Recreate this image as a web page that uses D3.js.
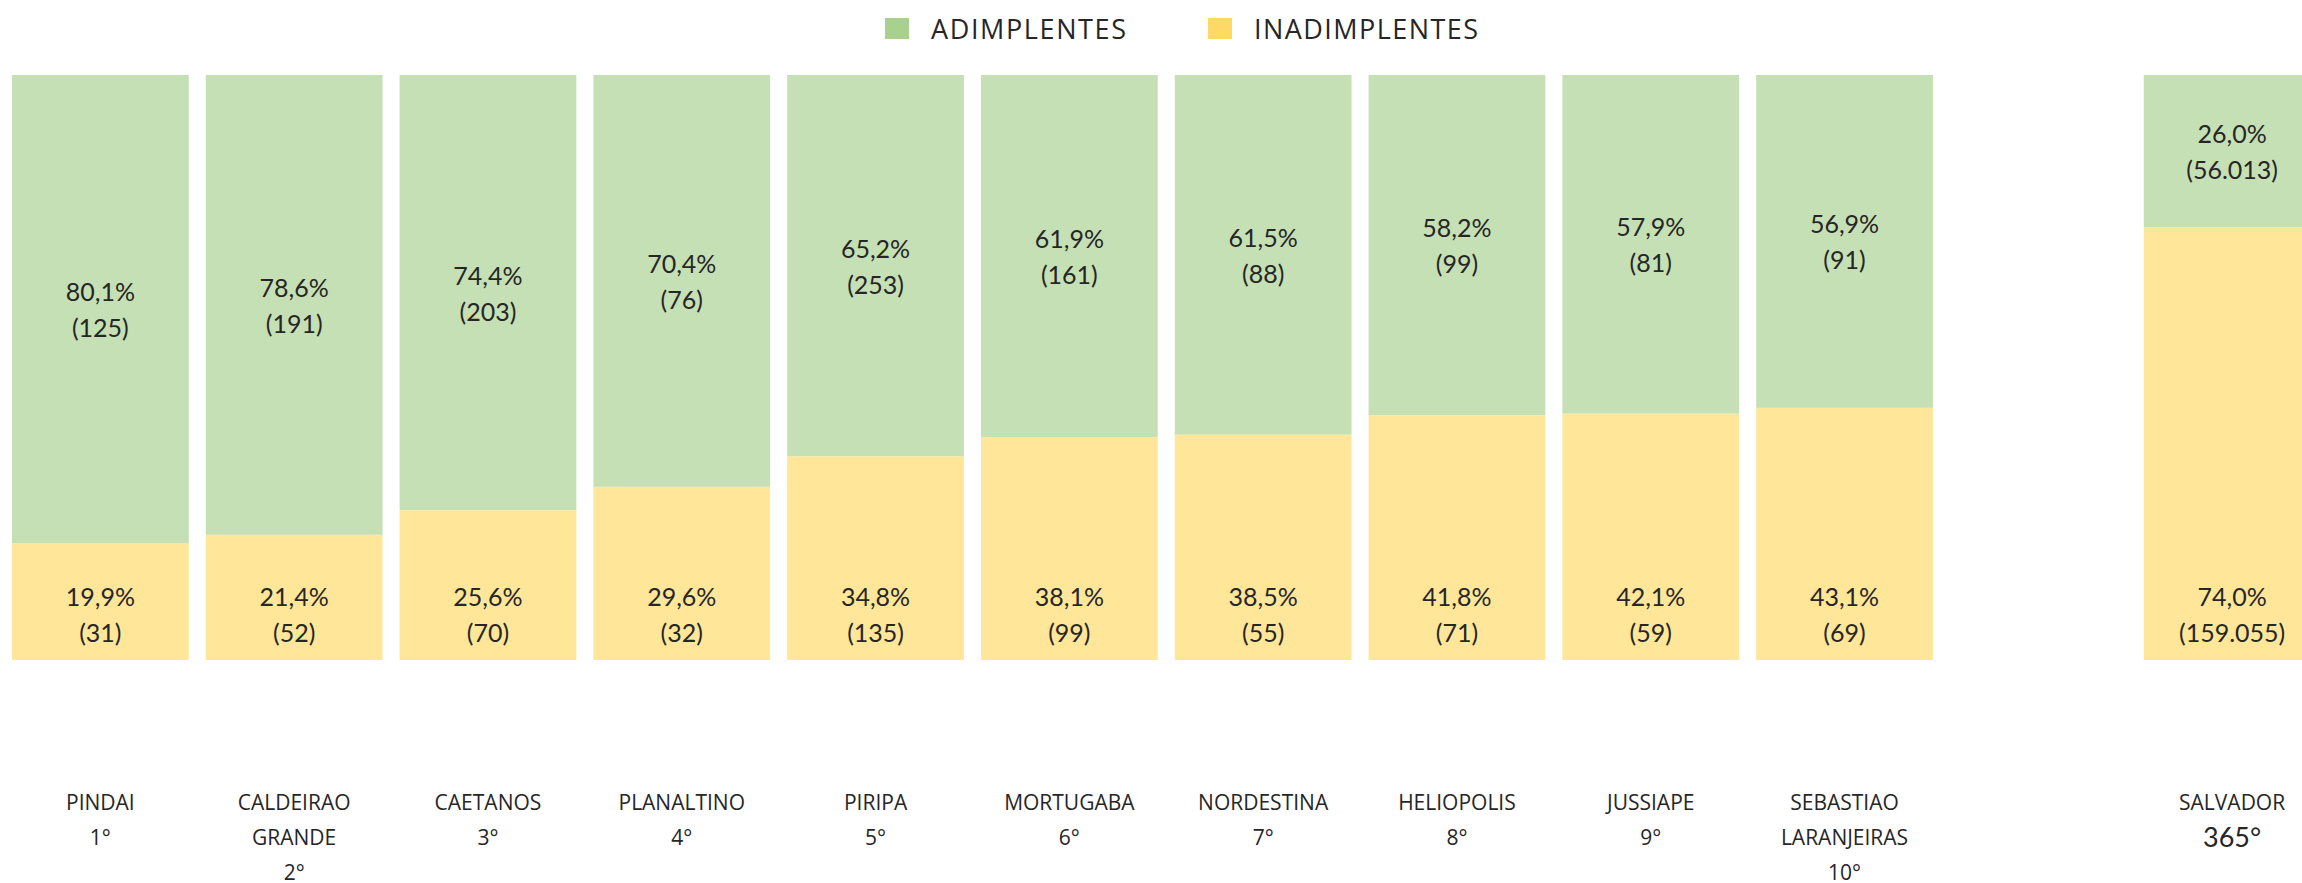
<!DOCTYPE html>
<html>
<head>
<meta charset="utf-8">
<script src="https://cdn.jsdelivr.net/npm/d3@7"></script>
<style>
  body { margin: 0; background: #fff; overflow: hidden; }
</style>
</head>
<body>
<script>
// values
const cities = ["PINDAI", "CALDEIRAO GRANDE", "CAETANOS", "PLANALTINO", "PIRIPA", "MORTUGABA",
                "NORDESTINA", "HELIOPOLIS", "JUSSIAPE", "SEBASTIAO LARANJEIRAS", "SALVADOR"];
const ranks = ["1°", "2°", "3°", "4°", "5°", "6°", "7°", "8°", "9°", "10°", "365°"];
const adimPct = [80.1, 78.6, 74.4, 70.4, 65.2, 61.9, 61.5, 58.2, 57.9, 56.9, 26.0];
const adimN = [125, 191, 203, 76, 253, 161, 88, 99, 81, 91, 56013];
const inadPct = [19.9, 21.4, 25.6, 29.6, 34.8, 38.1, 38.5, 41.8, 42.1, 43.1, 74.0];
const inadN = [31, 52, 70, 32, 135, 99, 55, 71, 59, 69, 159055];
const seriesNames = ["ADIMPLENTES", "INADIMPLENTES"];

const width = 2302, height = 883;
const barColors = ["#c5e0b4", "#ffe699"];
const swatchColors = ["#a9d18e", "#ffd966"];
const textColor = "#262626";

const br = d3.formatLocale({decimal: ",", thousands: ".", grouping: [3], currency: ["R$", ""]});
const fmtPct = br.format(".1f");
const fmtN = br.format(",d");

const rows = cities.map((c, i) => ({
  city: c, rank: ranks[i],
  adim: adimPct[i], adimN: adimN[i],
  inad: inadPct[i], inadN: inadN[i]
}));

// empty slot before SALVADOR
const slots = cities.slice(0, 10).concat(["_gap"], cities.slice(10));

const x = d3.scaleBand()
  .domain(slots)
  .range([12, 2320.5])
  .paddingInner(0.088)
  .paddingOuter(0);

const y = d3.scaleLinear().domain([0, 100]).range([660, 75]);

const svg = d3.select("body").append("svg")
  .attr("width", width)
  .attr("height", height);

// legend
const legendX = [885, 1208];
const legendW = [195, 224];
const legend = svg.append("g");
seriesNames.forEach((name, i) => {
  legend.append("rect")
    .attr("x", legendX[i]).attr("y", 18)
    .attr("width", 24).attr("height", 21)
    .attr("fill", swatchColors[i]);
  legend.append("text")
    .attr("x", legendX[i] + 46).attr("y", 39)
    .attr("font-family", "Open Sans")
    .attr("font-size", 27)
    .attr("fill", textColor)
    .attr("textLength", legendW[i])
    .attr("lengthAdjust", "spacing")
    .text(name);
});

// bars
const bars = svg.append("g").selectAll("g.bar")
  .data(rows)
  .join("g")
  .attr("class", "bar");

bars.append("rect")
  .attr("x", d => x(d.city))
  .attr("width", x.bandwidth())
  .attr("y", y(100))
  .attr("height", d => y(100 - d.adim) - y(100))
  .attr("fill", barColors[0]);

bars.append("rect")
  .attr("x", d => x(d.city))
  .attr("width", x.bandwidth())
  .attr("y", d => y(d.inad))
  .attr("height", d => y(0) - y(d.inad))
  .attr("fill", barColors[1]);

const labelFont = "Lato";
const labelSize = 25;

// green labels centred in their segment
const gLab = bars.append("text")
  .attr("text-anchor", "middle")
  .attr("font-family", labelFont)
  .attr("font-size", labelSize)
  .attr("fill", textColor);
gLab.append("tspan")
  .attr("x", d => x(d.city) + x.bandwidth() / 2)
  .attr("y", d => (y(100) + y(d.inad)) / 2 - 8)
  .text(d => fmtPct(d.adim) + "%");
gLab.append("tspan")
  .attr("x", d => x(d.city) + x.bandwidth() / 2)
  .attr("y", d => (y(100) + y(d.inad)) / 2 + 28)
  .text(d => "(" + fmtN(d.adimN) + ")");

// yellow labels at the base
const yLab = bars.append("text")
  .attr("text-anchor", "middle")
  .attr("font-family", labelFont)
  .attr("font-size", labelSize)
  .attr("fill", textColor);
yLab.append("tspan")
  .attr("x", d => x(d.city) + x.bandwidth() / 2)
  .attr("y", y(0) - 54)
  .text(d => fmtPct(d.inad) + "%");
yLab.append("tspan")
  .attr("x", d => x(d.city) + x.bandwidth() / 2)
  .attr("y", y(0) - 18)
  .text(d => "(" + fmtN(d.inadN) + ")");

// category labels (the capital's rank is set like the bar labels)
const cat = svg.append("g").selectAll("text")
  .data(rows)
  .join("text")
  .attr("text-anchor", "middle")
  .attr("font-family", "Open Sans")
  .attr("font-size", 21)
  .attr("fill", textColor);

cat.each(function(d) {
  const lines = d.city.split(" ");
  const t = d3.select(this);
  const cx = x(d.city) + x.bandwidth() / 2;
  lines.forEach((ln, i) => {
    t.append("tspan").attr("x", cx).attr("y", 810 + i * 35).text(ln);
  });
  const r = t.append("tspan").attr("x", cx).attr("y", 810 + lines.length * 35).text(d.rank);
  if (d.city === "SALVADOR") {
    r.attr("y", 847).attr("font-family", labelFont).attr("font-size", 27);
  }
});
</script>
</body>
</html>
